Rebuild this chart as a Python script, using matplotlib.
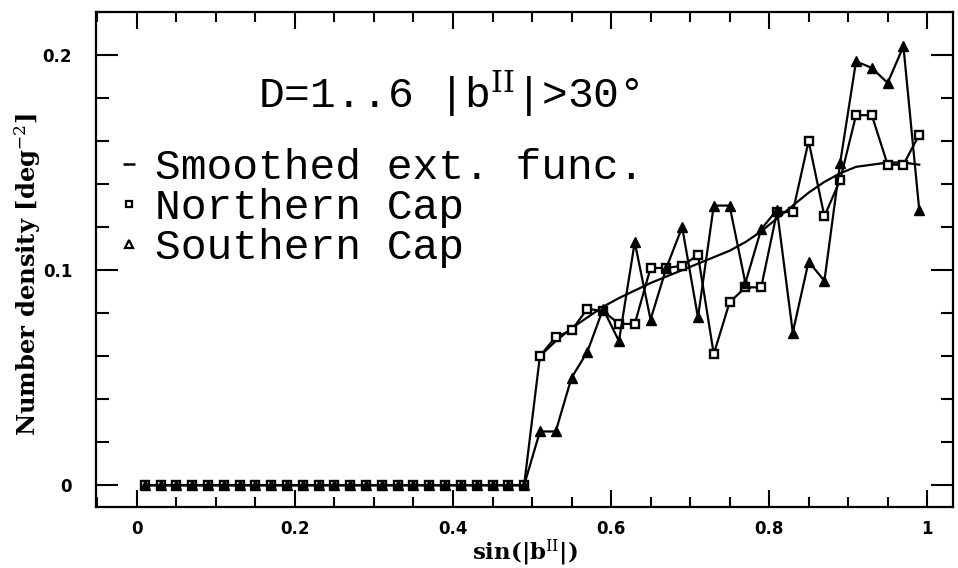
import matplotlib
matplotlib.use('Agg')
import matplotlib.pyplot as plt
from matplotlib.lines import Line2D
from matplotlib.ticker import MultipleLocator

plt.rcParams['mathtext.fontset'] = 'dejavuserif'

# bin centres in sin|b|
x = [0.01, 0.03, 0.05, 0.07, 0.09, 0.11, 0.13, 0.15, 0.17, 0.19,
     0.21, 0.23, 0.25, 0.27, 0.29, 0.31, 0.33, 0.35, 0.37, 0.39,
     0.41, 0.43, 0.45, 0.47, 0.49, 0.51, 0.53, 0.55, 0.57, 0.59,
     0.61, 0.63, 0.65, 0.67, 0.69, 0.71, 0.73, 0.75, 0.77, 0.79,
     0.81, 0.83, 0.85, 0.87, 0.89, 0.91, 0.93, 0.95, 0.97, 0.99]

north = [0] * 25 + [0.060, 0.069, 0.072, 0.082, 0.081, 0.075, 0.075, 0.101, 0.101, 0.102,
                    0.107, 0.061, 0.085, 0.092, 0.092, 0.127, 0.127, 0.160, 0.125, 0.142,
                    0.172, 0.172, 0.149, 0.149, 0.163]
south = [0] * 25 + [0.025, 0.025, 0.050, 0.062, 0.082, 0.067, 0.113, 0.077, 0.101, 0.120,
                    0.078, 0.130, 0.130, 0.094, 0.119, 0.128, 0.071, 0.104, 0.095, 0.150,
                    0.197, 0.194, 0.187, 0.204, 0.128]

smooth_x = [0.51, 0.53, 0.55, 0.57, 0.59, 0.61, 0.63, 0.65, 0.67, 0.69, 0.71, 0.73, 0.75,
            0.77, 0.79, 0.81, 0.83, 0.85, 0.87, 0.89, 0.91, 0.93, 0.95, 0.97, 0.99]
smooth_y = [0.060, 0.067, 0.073, 0.078, 0.083, 0.087, 0.0905, 0.094, 0.097, 0.100, 0.103,
            0.106, 0.109, 0.113, 0.118, 0.124, 0.130, 0.136, 0.141, 0.145, 0.148, 0.149,
            0.150, 0.150, 0.149]

fig = plt.figure(figsize=(9.58, 5.68), dpi=100)
ax = fig.add_axes([0.100, 0.107, 0.895, 0.872])

ax.plot(smooth_x, smooth_y, color='black', lw=1.6)
ax.plot(x, north, color='black', lw=1.6, marker='s', ms=6, mfc='white', mec='black', mew=1.7)
ax.plot(x, south, color='black', lw=1.6, marker='^', ms=7.5, mfc='black', mec='black')

ax.set_xlim(-0.052, 1.033)
ax.set_ylim(-0.0102, 0.22)

ax.xaxis.set_minor_locator(MultipleLocator(0.05))
ax.yaxis.set_minor_locator(MultipleLocator(0.02))
ax.set_xticks([0, 0.2, 0.4, 0.6, 0.8, 1.0])
ax.set_xticklabels(['0', '0.2', '0.4', '0.6', '0.8', '1'])
ax.set_yticks([0, 0.1, 0.2])
ax.set_yticklabels(['0', '0.1', '0.2'])

ax.tick_params(axis='x', which='major', direction='in', length=12, width=1.5,
               top=True, labelsize=12, pad=9)
ax.tick_params(axis='x', which='minor', direction='in', length=7, width=1.5, top=True)
ax.tick_params(axis='y', which='major', direction='in', length=16, width=1.5,
               right=True, labelsize=12, pad=17)
ax.tick_params(axis='y', which='minor', direction='in', length=9, width=1.5, right=True)
for lab in ax.get_xticklabels() + ax.get_yticklabels():
    lab.set_fontweight('bold')
for s in ax.spines.values():
    s.set_linewidth(1.6)

ax.set_xlabel('sin(|b$^{\\rm II}$|)', fontsize=16.5, family='DejaVu Serif',
              fontweight='bold', labelpad=0)
ax.set_ylabel('Number density [deg$^{-2}$]', fontsize=17.5, family='DejaVu Serif',
              fontweight='bold')
ax.yaxis.set_label_coords(-0.061, 0.47)

ax.text(0.189, 0.835, 'D=1..6 |b$^{\\rm II}$|>30°', transform=ax.transAxes,
        fontsize=31, family='Liberation Mono', va='center', ha='left')

handles = [
    Line2D([], [], ls='none', marker='_', ms=9, mew=1.8, color='black'),
    Line2D([], [], ls='none', marker='s', ms=5, mfc='white', mec='black', mew=1.6),
    Line2D([], [], ls='none', marker='^', ms=6, mfc='white', mec='black', mew=1.6),
]
labels = ['Smoothed ext. func.', 'Northern Cap', 'Southern Cap']
ax.legend(handles, labels, loc='upper left', bbox_to_anchor=(0.029, 0.725), frameon=False,
          prop={'family': 'Liberation Mono', 'size': 31}, handlelength=0.4,
          handletextpad=0.4, labelspacing=0.0, borderpad=0, borderaxespad=0)

fig.savefig('out.png', dpi=100)
